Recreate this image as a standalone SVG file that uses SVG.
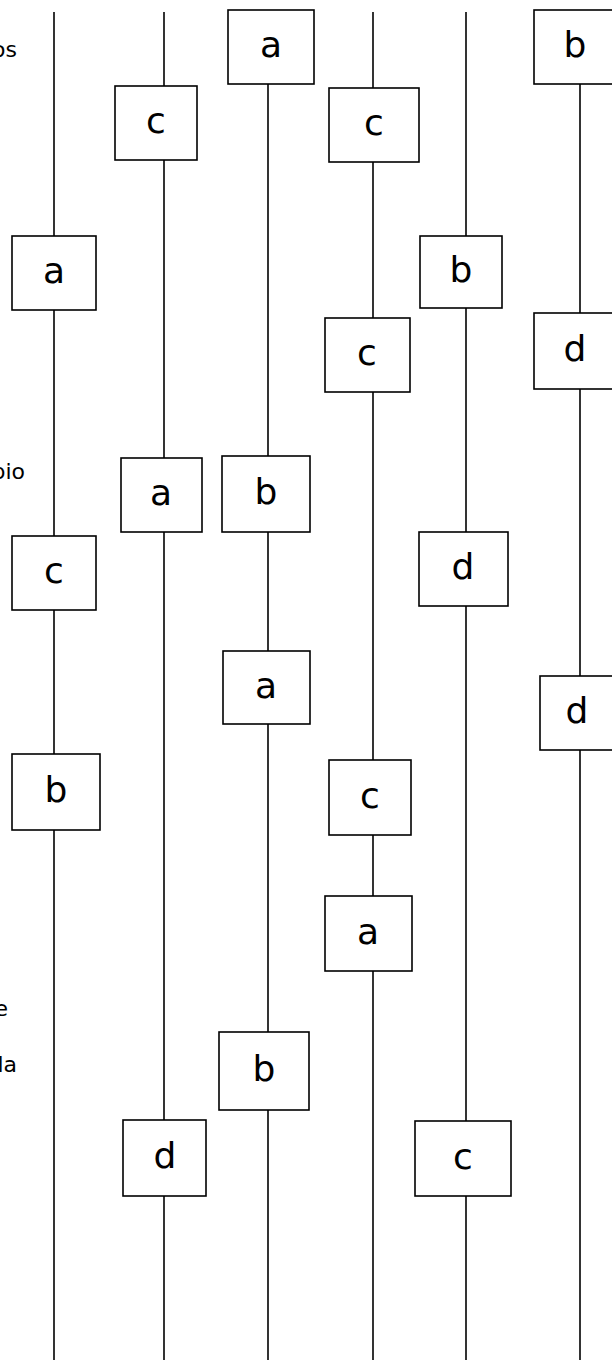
<svg xmlns="http://www.w3.org/2000/svg" width="612" height="1360" viewBox="0 0 612 1360">
<style>
.ln{stroke:#000;stroke-width:1.6;fill:none}
.bx{fill:#fff;stroke:#000;stroke-width:1.6}
.lb{font-family:"DejaVu Sans",Verdana,sans-serif;font-size:36px;text-anchor:middle;fill:#000}
.side{font-family:"DejaVu Sans",Verdana,sans-serif;font-size:22px;text-anchor:end;fill:#000}
</style>
<rect width="612" height="1360" fill="#fff"/>
<g id="connectors">
<line class="ln" x1="54" y1="12" x2="54" y2="1360"/>
<line class="ln" x1="164" y1="12" x2="164" y2="1360"/>
<line class="ln" x1="268" y1="84" x2="268" y2="1360"/>
<line class="ln" x1="373" y1="12" x2="373" y2="1360"/>
<line class="ln" x1="466" y1="12" x2="466" y2="1360"/>
<line class="ln" x1="580" y1="84" x2="580" y2="1360"/>
</g>
<g id="side-text">
<text class="side" x="17" y="57">os</text>
<text class="side" x="25" y="479">pio</text>
<text class="side" x="8" y="1016">e</text>
<text class="side" x="17" y="1072">la</text>
</g>
<g id="n1"><rect class="bx" x="12" y="236" width="84" height="74"/><text class="lb" x="54" y="283">a</text></g>
<g id="n2"><rect class="bx" x="12" y="536" width="84" height="74"/><text class="lb" x="54" y="583">c</text></g>
<g id="n3"><rect class="bx" x="12" y="754" width="88" height="76"/><text class="lb" x="56" y="802">b</text></g>
<g id="n4"><rect class="bx" x="115" y="86" width="82" height="74"/><text class="lb" x="156" y="133">c</text></g>
<g id="n5"><rect class="bx" x="121" y="458" width="81" height="74"/><text class="lb" x="161" y="505">a</text></g>
<g id="n6"><rect class="bx" x="123" y="1120" width="83" height="76"/><text class="lb" x="165" y="1168">d</text></g>
<g id="n7"><rect class="bx" x="228" y="10" width="86" height="74"/><text class="lb" x="271" y="57">a</text></g>
<g id="n8"><rect class="bx" x="222" y="456" width="88" height="76"/><text class="lb" x="266" y="504">b</text></g>
<g id="n9"><rect class="bx" x="223" y="651" width="87" height="73"/><text class="lb" x="266" y="698">a</text></g>
<g id="n10"><rect class="bx" x="219" y="1032" width="90" height="78"/><text class="lb" x="264" y="1081">b</text></g>
<g id="n11"><rect class="bx" x="329" y="88" width="90" height="74"/><text class="lb" x="374" y="135">c</text></g>
<g id="n12"><rect class="bx" x="325" y="318" width="85" height="74"/><text class="lb" x="367" y="365">c</text></g>
<g id="n13"><rect class="bx" x="329" y="760" width="82" height="75"/><text class="lb" x="370" y="808">c</text></g>
<g id="n14"><rect class="bx" x="325" y="896" width="87" height="75"/><text class="lb" x="368" y="944">a</text></g>
<g id="n15"><rect class="bx" x="420" y="236" width="82" height="72"/><text class="lb" x="461" y="282">b</text></g>
<g id="n16"><rect class="bx" x="419" y="532" width="89" height="74"/><text class="lb" x="463" y="579">d</text></g>
<g id="n17"><rect class="bx" x="415" y="1121" width="96" height="75"/><text class="lb" x="463" y="1169">c</text></g>
<g id="n18"><rect class="bx" x="534" y="10" width="82" height="74"/><text class="lb" x="575" y="57">b</text></g>
<g id="n19"><rect class="bx" x="534" y="313" width="82" height="76"/><text class="lb" x="575" y="361">d</text></g>
<g id="n20"><rect class="bx" x="540" y="676" width="80" height="74"/><text class="lb" x="577" y="723">d</text></g>
</svg>
